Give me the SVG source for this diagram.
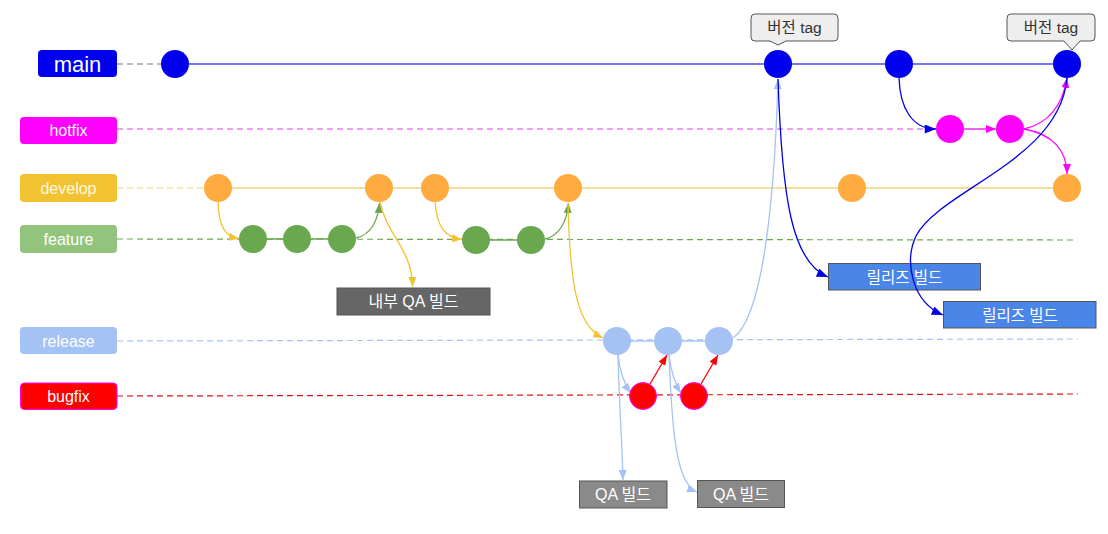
<svg xmlns="http://www.w3.org/2000/svg" width="1108" height="534" viewBox="0 0 1108 534">
<style>
text{font-family:"Liberation Sans","Noto Sans CJK KR",sans-serif;}
.lbl{font-size:16px;fill:#ffffff;text-anchor:middle;}
.box{font-size:16px;fill:#ffffff;text-anchor:middle;}
.tag{font-size:15.5px;fill:#333333;text-anchor:middle;}
.c{fill:none;stroke-width:1.3;}
.dash{fill:none;stroke-width:1.2;stroke-dasharray:6 4;}
</style>
<defs>
<marker id="aY" viewBox="0 0 10 8" refX="10" refY="4" markerWidth="10" markerHeight="8" markerUnits="userSpaceOnUse" orient="auto"><path d="M0,0 L10,4 L0,8 z" fill="#f1c232"/></marker>
<marker id="aG" viewBox="0 0 10 8" refX="10" refY="4" markerWidth="10" markerHeight="8" markerUnits="userSpaceOnUse" orient="auto"><path d="M0,0 L10,4 L0,8 z" fill="#6aa84f"/></marker>
<marker id="aL" viewBox="0 0 10 8" refX="10" refY="4" markerWidth="10" markerHeight="8" markerUnits="userSpaceOnUse" orient="auto"><path d="M0,0 L10,4 L0,8 z" fill="#a4c2f4"/></marker>
<marker id="aR" viewBox="0 0 10 8" refX="10" refY="4" markerWidth="10" markerHeight="8" markerUnits="userSpaceOnUse" orient="auto"><path d="M0,0 L10,4 L0,8 z" fill="#ff0000"/></marker>
<marker id="aB" viewBox="0 0 10 8" refX="10" refY="4" markerWidth="12" markerHeight="9" markerUnits="userSpaceOnUse" orient="auto"><path d="M0,0 L10,4 L0,8 z" fill="#0000e0"/></marker>
<marker id="aM" viewBox="0 0 10 8" refX="10" refY="4" markerWidth="10" markerHeight="8" markerUnits="userSpaceOnUse" orient="auto"><path d="M0,0 L10,4 L0,8 z" fill="#ff00ff"/></marker>
</defs>
<rect width="1108" height="534" fill="#ffffff"/>

<!-- branch lanes -->
<g id="lanes">
<line x1="117" y1="64" x2="162" y2="64" class="dash" stroke="#777777"/>
<line x1="175" y1="64" x2="1067" y2="64" stroke="#4a4af0" stroke-width="1.3"/>
<line x1="117" y1="129" x2="936" y2="129" class="dash" stroke="#e040e0"/>
<line x1="117" y1="188" x2="204" y2="188" class="dash" stroke="#f3cf7a"/>
<line x1="218" y1="188" x2="1067" y2="188" stroke="#f3d37e" stroke-width="1.6"/>
<line x1="117" y1="239" x2="1076" y2="240" class="dash" stroke="#6aa84f"/>
<line x1="253" y1="239" x2="342" y2="239" stroke="#6aa84f" stroke-width="1.3"/>
<line x1="476" y1="240" x2="531" y2="240" stroke="#6aa84f" stroke-width="1.3"/>
<line x1="117" y1="341" x2="1078" y2="339" class="dash" stroke="#a4c2f4"/>
<line x1="617" y1="341" x2="719" y2="341" stroke="#a4c2f4" stroke-width="1.3"/>
<line x1="117" y1="396" x2="1078" y2="394" class="dash" stroke="#e01010"/>
</g>

<!-- branch labels -->
<g id="label-main"><rect x="38" y="50" width="79" height="27" rx="4" fill="#0000ee"/><text x="77.5" y="72" class="lbl" style="font-size:22px">main</text></g>
<g id="label-hotfix"><rect x="20" y="117" width="97" height="27" rx="4" fill="#ff00ff"/><text x="68.5" y="136" class="lbl">hotfix</text></g>
<g id="label-develop"><rect x="20" y="174" width="97" height="28" rx="4" fill="#f1c232"/><text x="68.5" y="193.5" class="lbl" style="fill:#fff8e0">develop</text></g>
<g id="label-feature"><rect x="20" y="225" width="97" height="28" rx="4" fill="#93c47d"/><text x="68.5" y="245" class="lbl">feature</text></g>
<g id="label-release"><rect x="20" y="327" width="97" height="27" rx="4" fill="#a4c2f4"/><text x="68.5" y="346.5" class="lbl">release</text></g>
<g id="label-bugfix"><rect x="20.5" y="383" width="96.5" height="26.5" rx="4" fill="#ff0000" stroke="#ff00ff" stroke-width="1"/><text x="68.5" y="402" class="lbl">bugfix</text></g>

<!-- connectors -->
<g id="connectors">
<path class="c" stroke="#f1c232" d="M218,202 C219,226 224,236 239,238.5" marker-end="url(#aY)"/>
<path class="c" stroke="#6aa84f" d="M356,238 C370,235 378,222 379.5,203" marker-end="url(#aG)"/>
<path class="c" stroke="#f1c232" d="M380,202 C388,238 412,248 412.5,287" marker-end="url(#aY)"/>
<path class="c" stroke="#f1c232" d="M435,202 C437,226 444,237 462,239.5" marker-end="url(#aY)"/>
<path class="c" stroke="#6aa84f" d="M545,239 C559,236 567,222 568.5,203" marker-end="url(#aG)"/>
<path class="c" stroke="#f1c232" d="M568,203 C570,290 578,326 603,338" marker-end="url(#aY)"/>
<path class="c" stroke="#a4c2f4" d="M618,355 C620,372 624,384 631,393" marker-end="url(#aL)"/>
<path class="c" stroke="#a4c2f4" d="M618,355 C619,400 622,440 623,480" marker-end="url(#aL)"/>
<path class="c" stroke="#ff0000" d="M650,384 L667,355" marker-end="url(#aR)"/>
<path class="c" stroke="#a4c2f4" d="M669,355 C671,372 675,384 681,393" marker-end="url(#aL)"/>
<path class="c" stroke="#a4c2f4" d="M669,355 C672,430 676,484 697,492" marker-end="url(#aL)"/>
<path class="c" stroke="#ff0000" d="M701,384 L718,355" marker-end="url(#aR)"/>
<path class="c" stroke="#a4c2f4" d="M733,338 C760,320 774,220 778,79" marker-end="url(#aL)"/>
<path class="c" stroke="#0000e0" d="M778,79 C782,200 792,262 828,277" marker-end="url(#aB)"/>
<path class="c" stroke="#0000e0" d="M899,78 C900,108 912,129 936,129" marker-end="url(#aB)"/>
<path class="c" stroke="#ff00ff" d="M964,129 L996,129" marker-end="url(#aM)"/>
<path class="c" stroke="#ff00ff" d="M1024,129 C1046,124 1062,108 1067,78" marker-end="url(#aM)"/>
<path class="c" stroke="#ff00ff" d="M1024,129 C1052,134 1067,150 1067,174" marker-end="url(#aM)"/>
</g>

<!-- commits -->
<g id="main-commits" fill="#0000ee">
<circle id="m1" cx="175" cy="64" r="14"/>
<circle id="m2" cx="778" cy="64" r="14"/>
<circle id="m3" cx="899" cy="64" r="14"/>
<circle id="m4" cx="1067" cy="64" r="14"/>
</g>
<g id="hotfix-commits" fill="#ff00ff">
<circle id="h1" cx="950" cy="129" r="14"/>
<circle id="h2" cx="1010" cy="129" r="14"/>
</g>
<g id="develop-commits" fill="#ffab40">
<circle id="d1" cx="218" cy="188" r="14"/>
<circle id="d2" cx="379" cy="188" r="14"/>
<circle id="d3" cx="435" cy="188" r="14"/>
<circle id="d4" cx="568" cy="188" r="14"/>
<circle id="d5" cx="852" cy="188" r="14"/>
<circle id="d6" cx="1067" cy="188" r="14"/>
</g>
<g id="feature-commits" fill="#6aa84f">
<circle id="f1" cx="253" cy="239" r="14"/>
<circle id="f2" cx="297" cy="239" r="14"/>
<circle id="f3" cx="342" cy="239" r="14"/>
<circle id="f4" cx="476" cy="240" r="14"/>
<circle id="f5" cx="531" cy="240" r="14"/>
</g>
<g id="release-commits" fill="#a4c2f4">
<circle id="r1" cx="617" cy="341" r="14"/>
<circle id="r2" cx="668" cy="341" r="14"/>
<circle id="r3" cx="719" cy="341" r="14"/>
</g>
<g id="bugfix-commits" fill="#ff0000" stroke="#ff00ff" stroke-width="1">
<circle id="b1" cx="643" cy="396" r="13.5"/>
<circle id="b2" cx="694" cy="396" r="13.5"/>
</g>

<!-- build boxes -->
<g id="internal-qa"><rect x="337" y="288" width="153" height="27" fill="#666666" stroke="#555555"/><text x="413.5" y="307" class="box">내부 QA 빌드</text></g>
<g id="qa-build-1"><rect x="579.5" y="481" width="87.5" height="27" fill="#8a8a8a" stroke="#555555"/><text x="623" y="500" class="box">QA 빌드</text></g>
<g id="qa-build-2"><rect x="697.5" y="480.5" width="87" height="27" fill="#8a8a8a" stroke="#555555"/><text x="741" y="499.5" class="box">QA 빌드</text></g>
<g id="release-build-1"><rect x="828.5" y="263.5" width="152" height="26.5" fill="#4a86e8" stroke="#555555"/><text x="904.5" y="282.5" class="box" style="font-size:15.5px">릴리즈 빌드</text></g>
<g id="release-build-2"><rect x="943.5" y="301.5" width="152.5" height="26.5" fill="#4a86e8" stroke="#555555"/><text x="1020" y="320.5" class="box" style="font-size:15.5px">릴리즈 빌드</text></g>

<!-- main to release build 2 (drawn over box 1) -->
<g id="connectors-top">
<path class="c" stroke="#0000e0" d="M1067,78 C1060,160 940,190 916,236 C904,262 912,302 943,315" marker-end="url(#aB)"/>
</g>

<!-- version tags -->
<g id="tag-1"><path d="M755,14 H834 Q838,14 838,18 V37 Q838,41 834,41 H786 L778,45 L770,41 H755 Q751,41 751,37 V18 Q751,14 755,14 Z" fill="#eeeeee" stroke="#555555" stroke-width="1"/><text x="794.5" y="33" class="tag">버전 tag</text></g>
<g id="tag-2"><path d="M1011,14 H1091 Q1095,14 1095,18 V37 Q1095,41 1091,41 H1080 L1072,50 L1064,41 H1011 Q1007,41 1007,37 V18 Q1007,14 1011,14 Z" fill="#eeeeee" stroke="#555555" stroke-width="1"/><text x="1051" y="33" class="tag">버전 tag</text></g>
</svg>
